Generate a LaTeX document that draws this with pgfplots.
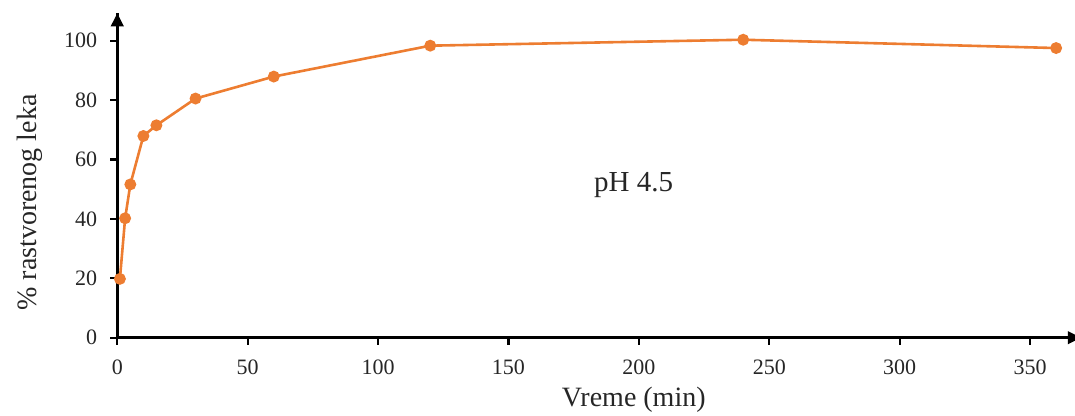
\documentclass[border=0pt]{standalone}
\usepackage{pgfplots}
\pgfplotsset{compat=1.18}
\usepackage{fontspec}
\setmainfont{Liberation Serif}
\usetikzlibrary{arrows.meta}
\definecolor{xlorange}{HTML}{ED7D31}
\begin{document}
\begin{tikzpicture}
\useasboundingbox (0,0) rectangle (537.5pt,208pt);
\begin{axis}[
  at={(58.65pt,39.15pt)}, anchor=south west,
  scale only axis, width=481.8pt, height=162.2pt,
  xmin=0, xmax=369.5, ymin=0, ymax=109.2,
  axis lines*=left,
  axis line style={line width=1.2pt},
  tick style={black, line width=1.1pt},
  tick align=outside, major tick length=3.5pt,
  xtick={0,50,...,350}, ytick={0,20,...,100},
  /pgf/number format/assume math mode=true,
  ticklabel style={font=\fontsize{11pt}{13pt}\selectfont, text=black!85},
  xticklabel style={yshift=-4pt},
  yticklabel style={xshift=-3pt},
  xlabel={Vreme (min)}, ylabel={\% rastvorenog leka},
  label style={font=\fontsize{14pt}{16pt}\selectfont, text=black!85},
  xlabel style={at={(axis description cs:0.536,-0.192)}, anchor=center},
  ylabel style={at={(axis description cs:-0.0906,0.417)}, anchor=center, rotate=0},
  clip=false,
]
\addplot[color=xlorange, line width=1.3pt, mark=*, mark size=2.3pt, mark options={fill=xlorange, draw=xlorange}]
  coordinates {(1,19.8) (3,40.2) (5,51.6) (10,67.9) (15,71.5) (30,80.5) (60,87.9) (120,98.3) (240,100.3) (360,97.5)};
\node[font=\fontsize{14.5pt}{17pt}\selectfont, text=black!85] at (axis cs:198,51.4) {pH 4.5};
\fill (rel axis cs:0,1) -- ++(-3.3pt,-6.5pt) -- ++(6.6pt,0pt) -- cycle;
\fill (rel axis cs:1,0) -- ++(-6.5pt,3.3pt) -- ++(0pt,-6.6pt) -- cycle;
\end{axis}
\end{tikzpicture}
\end{document}
